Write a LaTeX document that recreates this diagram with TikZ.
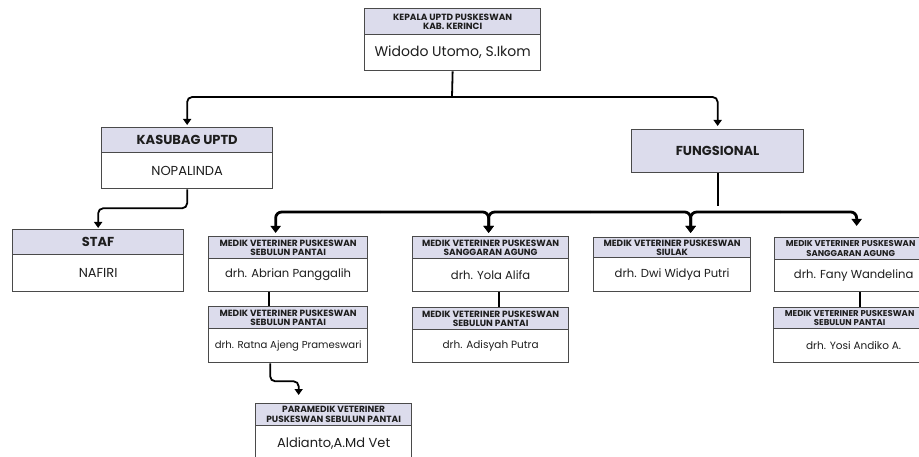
\documentclass[tikz,border=0pt]{standalone}
\usepackage{fontspec}
\setmainfont{Poppins}
\usetikzlibrary{arrows.meta}
\definecolor{hdrc}{HTML}{DCDCEC}
\definecolor{bordc}{HTML}{4A4A4A}
\definecolor{txtc}{HTML}{1E1E1E}
\begin{document}
\begin{tikzpicture}[x=1pt,y=-1pt,
  box/.style={draw=bordc, line width=1.3pt, anchor=north west, inner sep=0pt, align=center, text=txtc},
  hdr/.style={box, fill=hdrc, font=\fontsize{9}{9.6}\selectfont\bfseries},
  hdredge/.style={box, fill=hdrc, font=\fontsize{8.5}{9.6}\selectfont\bfseries},
  bod/.style={box, fill=white, font=\fontsize{11.6}{14}\selectfont},
  bods/.style={box, fill=white, font=\fontsize{10.5}{12}\selectfont},
  big/.style={font=\fontsize{13}{15}\selectfont\bfseries},
  bigname/.style={box, fill=white, font=\fontsize{13}{15}\selectfont},
  conn/.style={line width=1.8pt, black},
  arr/.style={conn, rounded corners=5pt, -{Triangle[length=6pt,width=8pt]}},
  busarr/.style={line width=2.8pt, black, rounded corners=6pt, -{Triangle[length=7pt,width=10pt]}}]
\useasboundingbox (0,0) rectangle (919,457);
\fill[white] (0,0) rectangle (919,457);
\clip (0,0) rectangle (919,457);

% top
\node[hdr, minimum width=176pt, minimum height=26pt] (toph) at (364,8) {KEPALA UPTD PUSKESWAN\\KAB. KERINCI};
\node[box, fill=white, font=\fontsize{14}{16}\selectfont, minimum width=176pt, minimum height=36pt] (topb) at (364,34) {Widodo Utomo, S.Ikom};

% kasubag
\node[hdr, big, minimum width=171pt, minimum height=25pt] (kash) at (101,127) {KASUBAG UPTD};
\node[bigname, minimum width=171pt, minimum height=36pt] (kasb) at (101,152) {NOPALINDA};

% fungsional
\node[hdr, big, minimum width=172pt, minimum height=43pt] (fung) at (631,129) {FUNGSIONAL};

% staf
\node[hdr, big, minimum width=171pt, minimum height=25pt] (stafh) at (12,229) {STAF};
\node[bigname, minimum width=171pt, minimum height=37pt] (stafb) at (12,254) {NAFIRI};

% abrian / ratna
\node[hdr, minimum width=159pt, minimum height=22pt] (abh) at (208,236) {MEDIK VETERINER PUSKESWAN\\SEBULUN PANTAI};
\node[bod, minimum width=159pt, minimum height=33pt] (abb) at (208,258) {drh. Abrian Panggalih};
\node[hdr, minimum width=159pt, minimum height=22pt] (rath) at (208,306) {MEDIK VETERINER PUSKESWAN\\SEBULUN PANTAI};
\node[box, fill=white, font=\fontsize{10.1}{12}\selectfont, minimum width=159pt, minimum height=34pt] (ratb) at (208,328) {drh. Ratna Ajeng Prameswari};

% yola / adisyah
\node[hdr, minimum width=156pt, minimum height=22pt] (yolah) at (412,236) {MEDIK VETERINER PUSKESWAN\\SANGGARAN AGUNG};
\node[bod, minimum width=156pt, minimum height=33pt] (yolab) at (412,258) {drh. Yola Alifa};
\node[hdr, minimum width=156pt, minimum height=22pt] (adih) at (412,307) {MEDIK VETERINER PUSKESWAN\\SEBULUN PANTAI};
\node[bods, minimum width=156pt, minimum height=33pt] (adib) at (412,329) {drh. Adisyah Putra};

% dwi
\node[hdr, minimum width=157pt, minimum height=20pt] (dwih) at (593,237) {MEDIK VETERINER PUSKESWAN\\SIULAK};
\node[bod, minimum width=157pt, minimum height=34pt] (dwib) at (593,257) {drh. Dwi Widya Putri};

% fany / yosi
\node[hdredge, minimum width=168pt, minimum height=22pt] (fanyh) at (774,237) {MEDIK VETERINER PUSKESWAN\hspace*{16pt}\\SANGGARAN AGUNG\hspace*{16pt}};
\node[bod, minimum width=168pt, minimum height=32pt] (fanyb) at (774,259) {drh. Fany Wandelina\hspace*{10pt}};
\node[hdredge, minimum width=170pt, minimum height=21pt] (yosih) at (773,307) {MEDIK VETERINER PUSKESWAN\hspace*{18pt}\\SEBULUN PANTAI\hspace*{18pt}};
\node[bods, minimum width=170pt, minimum height=34pt] (yosib) at (773,328) {drh. Yosi Andiko A.\hspace*{10pt}};

% paramedik
\node[hdr, minimum width=156pt, minimum height=22pt] (parh) at (255,403) {PARAMEDIK VETERINER\\PUSKESWAN SEBULUN PANTAI};
\node[box, fill=white, font=\fontsize{13}{15}\selectfont, minimum width=156pt, minimum height=36pt] (parb) at (255,425) {Aldianto,A.Md Vet};

% connectors
\coordinate (j1) at (452,97);
\draw[conn] (topb.south) -- (j1);
\draw[arr] (j1) -| ([yshift=2pt]kash.north);
\draw[arr] (j1) -| ([yshift=3pt]fung.north);
\draw[arr] (kasb.south) -- ++(0,19) -| ([yshift=1pt]stafh.north);
\draw[conn] (fung.south) -- ++(0,33);

\draw[busarr] (380,212) -| ([xshift=-12.5pt,yshift=3pt]abh.north);
\draw[busarr] (380,212) -| ([xshift=-2pt,yshift=3pt]yolah.north);
\draw[busarr] (590,212) -| ([xshift=-2pt,yshift=3pt]yolah.north);
\draw[busarr] (590,212) -| ([xshift=18.5pt,yshift=4pt]dwih.north);
\draw[busarr] (780,212) -| ([xshift=18.5pt,yshift=4pt]dwih.north);
\draw[busarr] (780,212) -| ([xshift=-2pt,yshift=11pt]fanyh.north);

\draw[conn] ([xshift=-19.5pt]abb.south) -- ([xshift=-19.5pt]rath.north);
\draw[conn] ([xshift=8pt]yolab.south) -- ([xshift=8pt]adih.north);
\draw[conn] ([xshift=1pt]fanyb.south) -- ([xshift=1pt]yosih.north);
\draw[arr] ([xshift=-18pt]ratb.south) -- ++(0,18) -| ([xshift=-35pt,yshift=8pt]parh.north);
\end{tikzpicture}
\end{document}
